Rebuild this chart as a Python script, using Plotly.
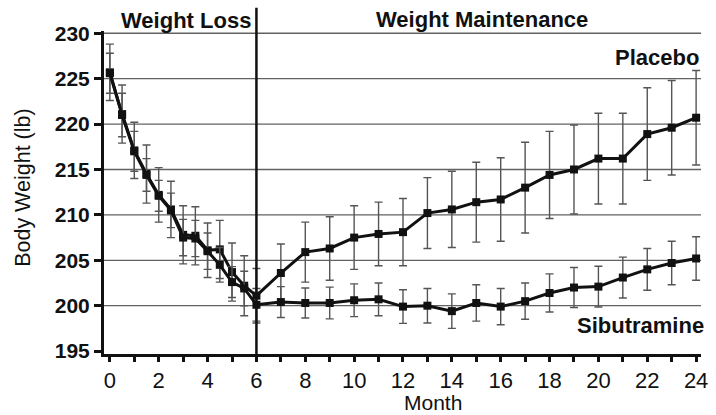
import plotly.graph_objects as go

# Study months (first 6 months at half-month visits, then monthly)
months = [0, 0.5, 1, 1.5, 2, 2.5, 3, 3.5, 4, 4.5, 5, 5.5, 6,
          7, 8, 9, 10, 11, 12, 13, 14, 15, 16, 17, 18, 19, 20, 21, 22, 23, 24]

placebo_mean = [225.7, 221.1, 217.1, 214.5, 212.2, 210.6, 207.8, 207.7, 206.1, 206.2, 203.7, 202.2, 201.1,
                203.6, 205.9, 206.3, 207.5, 207.9, 208.1, 210.2, 210.6, 211.4, 211.7, 213.0,
                214.4, 215.0, 216.2, 216.2, 218.9, 219.6, 220.7]
placebo_err = [3.1, 3.2, 3.1, 3.2, 3.0, 3.1, 3.2, 3.2, 3.0, 3.2, 3.2, 3.3, 3.0,
               3.2, 3.3, 3.5, 3.5, 3.5, 3.7, 3.9, 4.2, 4.4, 4.6, 5.0,
               4.8, 4.9, 5.0, 5.0, 5.1, 5.2, 5.2]

sibutramine_mean = [225.6, 221.0, 217.0, 214.4, 212.1, 210.5, 207.5, 207.4, 206.0, 204.5, 202.6, 201.9, 200.1,
                    200.4, 200.3, 200.3, 200.6, 200.7, 199.9, 200.0, 199.4, 200.3, 199.9, 200.5,
                    201.4, 202.0, 202.1, 203.1, 204.0, 204.7, 205.2]
sibutramine_err = [2.2, 2.4, 2.2, 1.8, 1.7, 1.9, 2.0, 2.0, 2.0, 1.9, 1.7, 1.9, 1.8,
                   1.7, 1.65, 1.75, 1.8, 1.8, 1.85, 1.9, 1.9, 2.0, 2.0, 2.0,
                   2.1, 2.2, 2.25, 2.25, 2.3, 2.4, 2.4]

x_tick_vals = [0, 2, 4, 6, 8, 10, 12, 14, 16, 18, 20, 22, 24]
x_tick_text = ["0", "2", "4", "6", "8", "10", "12", "14", "16", "18", "20", "22", "24"]
y_tick_vals = [195, 200, 205, 210, 215, 220, 225, 230]
grid_vals = [200, 205, 210, 215, 220, 225, 230]
phase_split = 6

FONT = "Liberation Sans, Arial, sans-serif"
INK = "#111111"

fig = go.Figure()

for name, mean, err in [("Placebo", placebo_mean, placebo_err),
                        ("Sibutramine", sibutramine_mean, sibutramine_err)]:
    fig.add_trace(go.Scatter(
        x=months, y=mean, name=name, mode="lines+markers",
        line=dict(color=INK, width=3),
        marker=dict(symbol="square", size=8, color=INK),
        error_y=dict(type="data", array=err, visible=True,
                     color="#555555", thickness=1.4, width=4),
        showlegend=False,
    ))

shapes = []
for g in grid_vals:
    shapes.append(dict(type="line", xref="paper", yref="y", x0=0, x1=1, y0=g, y1=g,
                       line=dict(color="#626262", width=1.3), layer="below"))
# divider between the two study phases
shapes.append(dict(type="line", xref="x", yref="paper", x0=phase_split, x1=phase_split,
                   y0=0, y1=1.072, line=dict(color=INK, width=2.5), layer="above"))

bold = dict(size=22, color=INK, family=FONT)
plain = dict(size=21.5, color=INK, family=FONT)

annotations = [
    dict(text="<b>Weight Loss</b>", x=3.1, y=1.034, xref="x", yref="paper",
         showarrow=False, font=bold, xanchor="center", yanchor="middle"),
    dict(text="<b>Weight Maintenance</b>", x=15.24, y=1.037, xref="x", yref="paper",
         showarrow=False, font=bold, xanchor="center", yanchor="middle"),
    dict(text="<b>Placebo</b>", x=1.0, y=227.3, xref="paper", yref="y",
         showarrow=False, font=bold, xanchor="right", yanchor="middle"),
    dict(text="<b>Sibutramine</b>", x=1.009, y=197.8, xref="paper", yref="y",
         showarrow=False, font=bold, xanchor="right", yanchor="middle"),
    dict(text="Body Weight (lb)", x=-0.137, y=0.515, xref="paper", yref="paper",
         textangle=-90, showarrow=False, font=plain,
         xanchor="center", yanchor="middle"),
    dict(text="Month", x=0.551, y=-0.149, xref="paper", yref="paper",
         showarrow=False, font=dict(size=21, color=INK, family=FONT),
         xanchor="center", yanchor="middle", borderpad=0),
]

fig.update_layout(
    width=716, height=415,
    margin=dict(l=104, r=8, t=31, b=61),
    paper_bgcolor="white", plot_bgcolor="white",
    shapes=shapes, annotations=annotations,
    xaxis=dict(
        range=[-0.24, 24.2], tickmode="array", tickvals=x_tick_vals, ticktext=x_tick_text,
        ticks="outside", ticklen=5, tickwidth=2.5, tickcolor=INK,
        minor=dict(dtick=1, tick0=0, ticks="outside", ticklen=5, tickwidth=2.5, tickcolor=INK),
        showline=True, linecolor=INK, linewidth=3, showgrid=False, zeroline=False,
        tickfont=dict(size=22, color=INK, family=FONT),
    ),
    yaxis=dict(
        range=[194.68, 230.25], tickmode="array", tickvals=y_tick_vals,
        ticks="outside", ticklen=7, tickwidth=2.5, tickcolor=INK,
        showline=True, linecolor=INK, linewidth=3, showgrid=False, zeroline=False,
        tickfont=dict(size=21, color=INK, family=FONT, weight="bold"),
    ),
)

fig.write_html("out.html")
